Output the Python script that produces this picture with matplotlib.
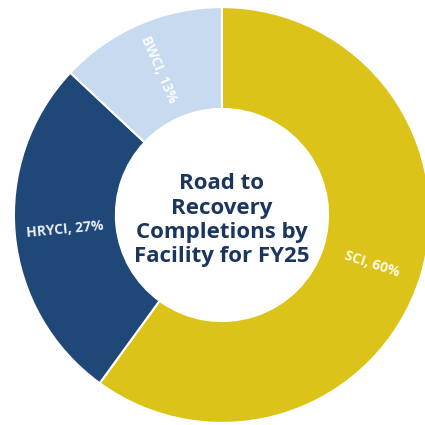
import numpy as np
import matplotlib
matplotlib.use("Agg")
import matplotlib.pyplot as plt

# data
facilities = ["SCI", "HRYCI", "BWCI"]
shares = [60, 27, 13]
colors = ["#DCC31A", "#1F4778", "#C7DAF0"]
title_text = "Road to\nRecovery\nCompletions by\nFacility for FY25"

fig = plt.figure(figsize=(4.25, 4.25), dpi=100)
ax = fig.add_axes([0, 0, 1, 1])

wedges, _ = ax.pie(shares, colors=colors, startangle=90, counterclock=False,
                   radius=1.0, wedgeprops=dict(width=0.49, edgecolor="white", linewidth=1.5))

# put the labels radially in the middle of each ring segment
for w, name, val in zip(wedges, facilities, shares):
    mid = (w.theta1 + w.theta2) / 2.0
    r = 0.76
    x = r * np.cos(np.radians(mid))
    y = r * np.sin(np.radians(mid))
    rot = mid
    if np.cos(np.radians(mid)) < 0:
        rot = mid - 180
    ax.text(x, y, f"{name}, {val}%", color="white", alpha=0.9, fontsize=10,
            fontweight="bold", family="Open Sans", rotation=rot,
            rotation_mode="anchor", ha="center", va="center")

ax.text(0.0, -0.025, title_text, ha="center", va="center", fontsize=16,
        fontweight="bold", color="#1B365D", family="Open Sans", linespacing=1.2)

ax.set_xlim(-1.067, 0.976)
ax.set_ylim(-1.010, 1.034)
ax.set_aspect("auto")
ax.axis("off")

fig.savefig("out.png", dpi=100)
